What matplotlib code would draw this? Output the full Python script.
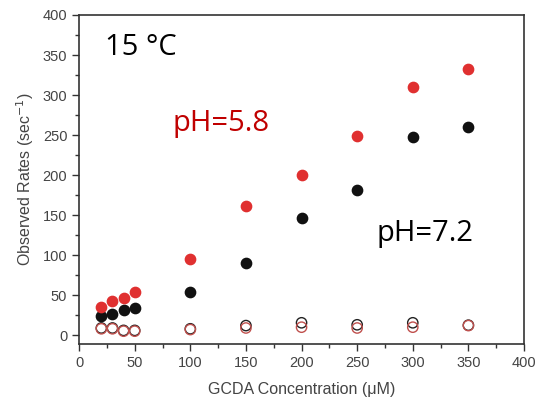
import numpy as np
import matplotlib
matplotlib.use("Agg")
import matplotlib.pyplot as plt

# GCDA concentration (uM)
conc = [20, 30, 40, 50, 100, 150, 200, 250, 300, 350]

# observed rates (sec^-1)
rate_ph58 = [35.5, 42.5, 46, 54, 95, 162, 200, 249, 310, 332]
rate_ph72 = [24, 27, 31, 34, 54, 90, 147, 182, 247, 260]
ctrl_ph58 = [8, 8, 5, 5, 7, 9, 10, 9, 10, 12]
ctrl_ph72 = [9, 9, 6, 6, 8, 12, 15.5, 13, 15.5, 12.5]

plt.rcParams['font.family'] = ['Liberation Sans', 'DejaVu Sans']

fig = plt.figure(figsize=(5.38, 4.0), dpi=100)
ax = fig.add_axes([0.147, 0.14, 0.827, 0.8225])

ax.scatter(conc, ctrl_ph72, s=55, facecolors='none', edgecolors='#222222', linewidths=1.0, zorder=3)
ax.scatter(conc, ctrl_ph58, s=55, facecolors='none', edgecolors='#c0504d', linewidths=1.0, zorder=3)
ax.scatter(conc, rate_ph72, s=55, color='#111111', zorder=3)
ax.scatter(conc, rate_ph58, s=55, color='#e03030', zorder=3)

ax.set_xlim(0, 400)
ax.set_ylim(-11, 400)
ax.set_xticks(np.arange(0, 401, 50))
ax.set_yticks(np.arange(0, 401, 50))
ax.set_xticks(np.arange(25, 400, 50), minor=True)
ax.set_yticks(np.arange(25, 400, 50), minor=True)
ax.tick_params(which='major', direction='out', length=5, width=1, colors='#333333', labelsize=10.5, labelcolor='#444444')
ax.tick_params(which='minor', direction='out', length=3, width=1, colors='#333333')
for sp in ax.spines.values():
    sp.set_color('#333333')
    sp.set_linewidth(1.2)

ax.set_xlabel('GCDA Concentration (μM)', fontsize=11.5, color='#444444', labelpad=9)
ax.set_ylabel('Observed Rates (sec$^{-1}$)', fontsize=11.5, color='#444444', labelpad=5)

ax.text(23, 360, '15 °C', fontsize=21, family=['Open Sans', 'DejaVu Sans'], va='center', ha='left', color='black')
ax.text(84, 265, 'pH=5.8', fontsize=21, family=['Open Sans', 'DejaVu Sans'], va='center', ha='left', color='#c00000')
ax.text(267, 127, 'pH=7.2', fontsize=21, family=['Open Sans', 'DejaVu Sans'], va='center', ha='left', color='black')

fig.savefig('out.png', dpi=100)
